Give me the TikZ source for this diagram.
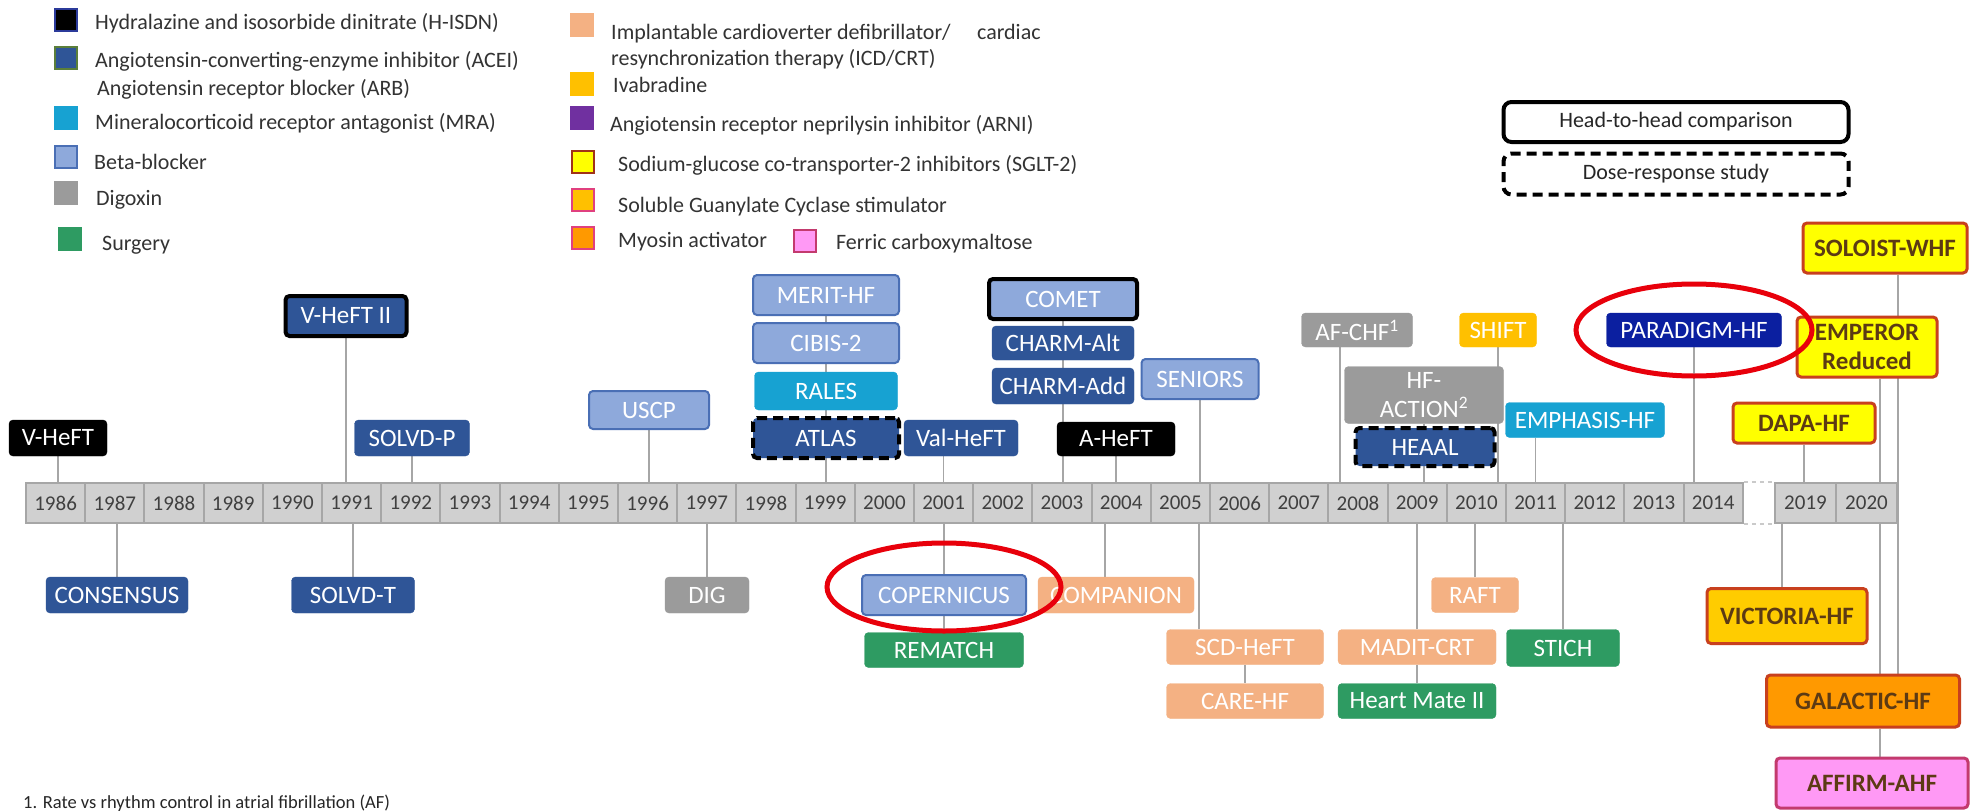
\documentclass[tikz,border=0pt]{standalone}
\usepackage{fontspec}
\setmainfont{Carlito}
\usetikzlibrary{backgrounds}

\definecolor{aceiC}{HTML}{2F5597}
\definecolor{mraC}{HTML}{17A2D2}
\definecolor{betaC}{HTML}{8EA9DB}
\definecolor{betaEdge}{HTML}{4A6FB5}
\definecolor{digC}{HTML}{9B9B9B}
\definecolor{surgC}{HTML}{2E9B62}
\definecolor{icdC}{HTML}{F4B183}
\definecolor{ivaC}{HTML}{FFC000}
\definecolor{arniC}{HTML}{7030A0}
\definecolor{arniBox}{HTML}{0B1FA0}
\definecolor{sgltC}{HTML}{FFFF00}
\definecolor{sgcC}{HTML}{FFCC00}
\definecolor{myoC}{HTML}{FF9900}
\definecolor{fcmC}{HTML}{FF99F5}
\definecolor{newEdge}{HTML}{C8401E}
\definecolor{fcmEdge}{HTML}{C33A6E}
\definecolor{newText}{HTML}{5C3A14}
\definecolor{legBlue}{HTML}{2B3A9A}
\definecolor{legGreen}{HTML}{5B7F3A}
\definecolor{legPink}{HTML}{E0407F}
\definecolor{barC}{HTML}{D0D0D0}
\definecolor{barEdge}{HTML}{A6A6A6}
\definecolor{connC}{HTML}{A6A6A6}
\definecolor{hiliteC}{HTML}{E8000B}

\tikzset{
  trial/.style={rounded corners=4pt, inner sep=0pt, minimum height=36pt, align=center,
    text=white, font=\fontsize{25}{27}\selectfont},
  hisdn/.style={trial, fill=black, draw=black},
  acei/.style={trial, fill=aceiC, draw=aceiC},
  mra/.style={trial, fill=mraC, draw=mraC},
  beta/.style={trial, fill=betaC, draw=betaEdge, line width=2pt},
  digox/.style={trial, fill=digC, draw=digC},
  surg/.style={trial, fill=surgC, draw=surgC},
  icd/.style={trial, fill=icdC, draw=icdC},
  ivab/.style={trial, fill=ivaC, draw=ivaC},
  arni/.style={trial, fill=arniBox, draw=arniBox},
  newer/.style={trial, draw=newEdge, line width=3pt, text=newText,
    font=\bfseries\fontsize{25}{29}\selectfont},
  sglt/.style={newer, fill=sgltC},
  sgc/.style={newer, fill=sgcC},
  myosin/.style={newer, fill=myoC},
  fcm/.style={newer, fill=fcmC, draw=fcmEdge},
  headtohead/.style={draw=black, line width=4pt},
  doseresp/.style={draw=black, line width=4pt, dash pattern=on 10pt off 6pt},
  yearcell/.style={draw=barEdge, fill=barC, line width=2pt, minimum width=59.2pt,
    minimum height=40pt, inner sep=0pt, text=black!75, font=\fontsize{21}{21}\selectfont},
  conn/.style={draw=connC, line width=1.5pt},
  gapline/.style={draw=barEdge!60, line width=2pt, dash pattern=on 4pt off 4pt},
  legsq/.style={minimum size=22pt, inner sep=0pt, line width=2pt},
  legtxt/.style={anchor=base west, inner sep=0pt, text=black!80, font=\fontsize{22}{22}\selectfont},
  hilite/.style={draw=hiliteC, line width=5pt},
}

\begin{document}
\begin{tikzpicture}[x=1pt, y=-1pt]
\useasboundingbox (0,0) rectangle (1979,811);

% legend, left column
\node[legsq, fill=black, draw=legBlue] (lqHisdn) at (66,20) {};
\node[legtxt] (ltHisdn) at (95,29) {Hydralazine and isosorbide dinitrate (H-ISDN)};
\node[legsq, fill=aceiC, draw=legGreen] (lqAcei) at (66,58) {};
\node[legtxt] (ltAcei) at (95,67) {Angiotensin-converting-enzyme inhibitor (ACEI)};
\node[legtxt] (ltArb) at (97,95) {Angiotensin receptor blocker (ARB)};
\node[legsq, fill=mraC, draw=mraC] (lqMra) at (66,118) {};
\node[legtxt] (ltMra) at (95,129) {Mineralocorticoid receptor antagonist (MRA)};
\node[legsq, fill=betaC, draw=betaEdge] (lqBeta) at (66,157) {};
\node[legtxt] (ltBeta) at (94,169) {Beta-blocker};
\node[legsq, fill=digC, draw=digC] (lqDig) at (66,193) {};
\node[legtxt] (ltDig) at (96,205) {Digoxin};
\node[legsq, fill=surgC, draw=surgC] (lqSurg) at (70,239) {};
\node[legtxt] (ltSurg) at (102,250) {Surgery};

% legend, middle column
\node[legsq, fill=icdC, draw=icdC] (lqIcd) at (582,25) {};
\node[legtxt] (ltIcd) at (611,39) {Implantable cardioverter defibrillator/\hspace{1.2em}cardiac};
\node[legtxt] (ltCrt) at (611,65) {resynchronization therapy (ICD/CRT)};
\node[legsq, fill=ivaC, draw=ivaC] (lqIva) at (582,84) {};
\node[legtxt] (ltIva) at (613,92) {Ivabradine};
\node[legsq, fill=arniC, draw=arniC] (lqArni) at (582,118) {};
\node[legtxt] (ltArni) at (610,131) {Angiotensin receptor neprilysin inhibitor (ARNI)};
\node[legsq, fill=sgltC, draw=newEdge!80!black] (lqSglt) at (583,162) {};
\node[legtxt] (ltSglt) at (618,171) {Sodium-glucose co-transporter-2 inhibitors (SGLT-2)};
\node[legsq, fill=ivaC, draw=legPink] (lqSgc) at (583,200) {};
\node[legtxt] (ltSgc) at (618,212) {Soluble Guanylate Cyclase stimulator};
\node[legsq, fill=myoC, draw=legPink] (lqMyo) at (583,238) {};
\node[legtxt] (ltMyo) at (618,247) {Myosin activator};
\node[legsq, fill=fcmC, draw=fcmEdge] (lqFcm) at (805,241) {};
\node[legtxt] (ltFcm) at (836,249) {Ferric carboxymaltose};

% legend, border styles
\node[headtohead, rounded corners=8pt, minimum width=345pt, minimum height=40pt,
  font=\fontsize{22}{22}\selectfont, text=black!85] (lgHead) at (1676,122) {Head-to-head comparison};
\node[doseresp, rounded corners=8pt, minimum width=345pt, minimum height=41pt,
  font=\fontsize{22}{22}\selectfont, text=black!85] (lgDose) at (1676,174) {Dose-response study};

% timeline
\foreach \yr [count=\i from 0] in {1986,...,2014}
  \node[yearcell] (y\yr) at ({26+59.2*(\i+0.5)},503) {\yr};
\node[yearcell, minimum width=61pt] (y2019) at (1805.5,503) {2019};
\node[yearcell, minimum width=61pt] (y2020) at (1866.5,503) {2020};
\draw[gapline] (y2014.north east) -- (y2019.north west);
\draw[gapline] (y2014.south east) -- (y2019.south west);

% trials above the timeline
\node[hisdn, minimum width=98pt] (vheft) at (58,438) {V-HeFT};
\node[acei, headtohead, minimum width=121pt, minimum height=40pt] (vhefttwo) at (346,316) {V-HeFT II};
\node[acei, minimum width=115pt] (solvdp) at (412,438) {SOLVD-P};
\node[beta, minimum width=120pt, minimum height=38pt] (uscp) at (649,410) {USCP};
\node[beta, minimum width=146pt, minimum height=40pt] (merit) at (826,295) {MERIT-HF};
\node[beta, minimum width=146pt, minimum height=40pt] (cibis) at (826,343) {CIBIS-2};
\node[mra, minimum width=143pt, minimum height=38pt] (rales) at (826,391) {RALES};
\node[acei, doseresp, minimum width=146pt, minimum height=40pt] (atlas) at (826,438) {ATLAS};
\node[acei, minimum width=114pt] (valheft) at (961,438) {Val-HeFT};
\node[beta, headtohead, minimum width=148pt, minimum height=40pt] (comet) at (1063,299) {COMET};
\node[acei, minimum width=142pt, minimum height=34pt] (charmalt) at (1063,343) {CHARM-Alt};
\node[acei, minimum width=142pt] (charmadd) at (1063,386) {CHARM-Add};
\node[hisdn, minimum width=118pt, minimum height=34pt] (aheft) at (1116,439) {A-HeFT};
\node[beta, minimum width=117pt, minimum height=40pt] (seniors) at (1200,379) {SENIORS};
\node[digox, minimum width=111pt, minimum height=34pt] (afchf) at (1357,330) {AF-CHF\textsuperscript{1}};
\node[ivab, minimum width=77pt, minimum height=34pt] (shift) at (1498,330) {SHIFT};
\node[digox, minimum width=159pt, minimum height=57pt, font=\fontsize{25}{29}\selectfont] (hfaction) at (1424,395) {HF-\\ACTION\textsuperscript{2}};
\node[acei, doseresp, minimum width=139pt, minimum height=38pt] (heaal) at (1425,447) {HEAAL};
\node[mra, minimum width=159pt, minimum height=35pt] (emphasis) at (1585,420) {EMPHASIS-HF};
\node[arni, minimum width=175pt, minimum height=34pt] (paradigm) at (1694,330) {PARADIGM-HF};
\node[sglt, minimum width=164pt, minimum height=50pt] (soloist) at (1885,248) {SOLOIST-WHF};
\node[sglt, minimum width=140pt, minimum height=60pt] (emperor) at (1867,347) {EMPEROR\\Reduced};
\node[sglt, minimum width=142pt, minimum height=40pt] (dapa) at (1804,423) {DAPA-HF};

% trials below the timeline
\node[acei, minimum width=142pt] (consensus) at (117,595) {CONSENSUS};
\node[acei, minimum width=123pt] (solvdt) at (353,595) {SOLVD-T};
\node[digox, minimum width=84pt] (dig) at (707,595) {DIG};
\node[beta, minimum width=164pt, minimum height=40pt] (copernicus) at (944,595) {COPERNICUS};
\node[surg, minimum width=159pt, minimum height=35pt] (rematch) at (944,650) {REMATCH};
\node[icd, minimum width=156pt] (companion) at (1116,595) {COMPANION};
\node[icd, minimum width=157pt, minimum height=35pt] (scdheft) at (1245,647) {SCD-HeFT};
\node[icd, minimum width=157pt, minimum height=35pt] (carehf) at (1245,701) {CARE-HF};
\node[icd, minimum width=87pt, minimum height=35pt] (raft) at (1475,595) {RAFT};
\node[icd, minimum width=158pt, minimum height=35pt] (madit) at (1417,647) {MADIT-CRT};
\node[surg, minimum width=158pt, minimum height=35pt] (heartmate) at (1417,701) {Heart Mate II};
\node[surg, minimum width=113pt, minimum height=37pt] (stich) at (1563,648) {STICH};
\node[sgc, minimum width=160pt, minimum height=55pt] (victoria) at (1787,616) {VICTORIA-HF};
\node[myosin, minimum width=193pt, minimum height=52pt] (galactic) at (1863,701) {GALACTIC-HF};
\node[fcm, minimum width=192pt, minimum height=50pt] (affirm) at (1872,783) {AFFIRM-AHF};

\node[anchor=base west, inner sep=0pt, text=black!85, font=\fontsize{18.5}{18.5}\selectfont] (fnote) at (23,808)
  {1. Rate vs rhythm control in atrial fibrillation (AF)};

% connectors behind the boxes
\begin{scope}[on background layer]
\fill[white] (0,0) rectangle (1979,811);
\foreach \trial/\yr in {vheft/1986, vhefttwo/1991, solvdp/1992, uscp/1996, merit/1999,
    comet/2003, aheft/2004, seniors/2005, hfaction/2009, shift/2010, paradigm/2014, dapa/2019}
  \draw[conn] (\trial.south) -- (\trial.south |- y\yr.north);
\foreach \trial/\yr in {consensus/1987, solvdt/1991, dig/1997, copernicus/2001,
    madit/2009, raft/2010, stich/2011}
  \draw[conn] (\trial.north) -- (\trial.north |- y\yr.south);
\draw[conn] (y2001.north) -- (y2001.north |- valheft.south);
\draw[conn] ([xshift=-17pt]afchf.south) -- ([xshift=-17pt]afchf.south |- y2008.north);
\draw[conn] (y2011.north) -- (y2011.north |- emphasis.south);
\draw[conn] ([xshift=13pt]emperor.south) -- ([xshift=13pt]emperor.south |- y2020.north);
\draw[conn] (soloist.south -| y2020.east) -- (galactic.north -| y2020.east);
\draw[conn] ([xshift=-11pt]companion.north) -- ([xshift=-11pt]companion.north |- y2004.south);
\draw[conn] ([xshift=-46pt]scdheft.north) -- ([xshift=-46pt]scdheft.north |- y2005.south);
\draw[conn] ([xshift=-5pt]victoria.north) -- ([xshift=-5pt]victoria.north |- y2019.south);
\draw[conn] ([xshift=17pt]galactic.north) -- ([xshift=17pt]galactic.north |- y2020.south);
\draw[conn] ([xshift=17pt]galactic.south) -- ([xshift=17pt]galactic.south |- affirm.north);
\draw[conn] (copernicus.south) -- (rematch.north);
\draw[conn] (scdheft.south) -- (carehf.north);
\draw[conn] (madit.south) -- (heartmate.north);
\end{scope}

% highlights
\draw[hilite] ([yshift=8pt]copernicus.center) ellipse [x radius=117pt, y radius=44pt];
\draw[hilite] (paradigm.center) ellipse [x radius=118pt, y radius=46pt];
\end{tikzpicture}
\end{document}
